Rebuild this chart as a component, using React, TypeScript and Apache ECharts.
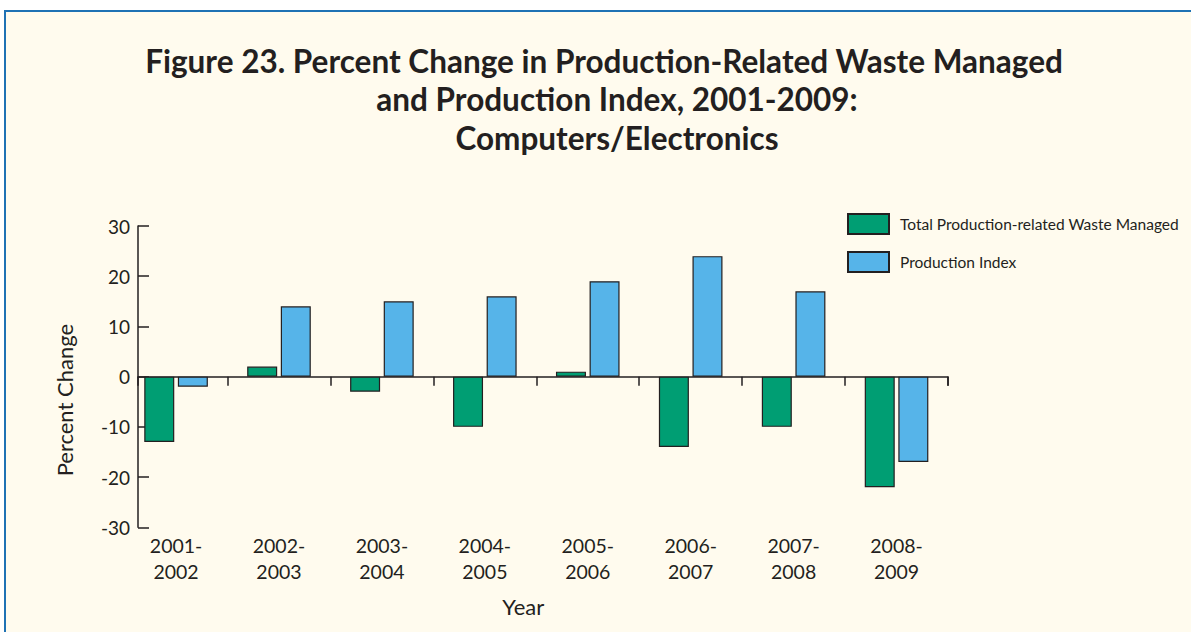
import { useEffect, useRef } from 'react';
import * as echarts from 'echarts';

const categories = ['2001-2002', '2002-2003', '2003-2004', '2004-2005', '2005-2006', '2006-2007', '2007-2008', '2008-2009'];
const wasteManaged = [-13, 2, -3, -10, 1, -14, -10, -22];
const productionIndex = [-2, 14, 15, 16, 19, 24, 17, -17];
const yMin = -30;
const yMax = 30;
const yInterval = 10;
const seriesNames = ['Total Production-related Waste Managed', 'Production Index'];
const titleLines = [
  'Figure 23. Percent Change in Production-Related Waste Managed',
  'and Production Index, 2001-2009:',
  'Computers/Electronics',
];

const FONT = 'Lato';
const INK = '#231f20';
const GREEN = '#009e73';
const BLUE = '#56b4e9';
const CREAM = '#fffbee';
const FRAME = '#1f72b4';

export default function App() {
  const ref = useRef<HTMLDivElement>(null);

  useEffect(() => {
    if (!ref.current) return;
    const chart = echarts.init(ref.current, undefined, { renderer: 'svg' });
    const lineStyle = { color: INK, width: 1.5 };
    const titleFont = { fontSize: 31.5, lineHeight: 38.2, fontWeight: 'bold' as const, color: INK, fontFamily: FONT };
    const titleText = `{first|${titleLines[0]}}\n{rest|${titleLines[1]}}\n{rest|${titleLines[2]}}`;
    const option = {
      animation: false,
      backgroundColor: 'transparent',
      textStyle: { fontFamily: FONT, color: INK },
      title: {
        text: titleText,
        left: 617,
        top: 42,
        padding: 0,
        textAlign: 'center',
        textStyle: {
          ...titleFont,
          rich: {
            first: { ...titleFont, padding: [0, 26, 0, 0] },
            rest: { ...titleFont },
          },
        },
      },
      legend: {
        orient: 'vertical',
        left: 847,
        top: 213,
        padding: 0,
        itemWidth: 41,
        itemHeight: 20,
        itemGap: 16,
        icon: 'rect',
        data: seriesNames,
        textStyle: { fontSize: 15.5, color: INK, fontFamily: FONT, padding: [0, 0, 0, 6] },
      },
      grid: [
        { left: 124.6, right: 243, top: 226, bottom: 104.7 },
        { left: 138, right: 243, top: 226, bottom: 104.7 },
      ],
      xAxis: [
        {
          type: 'category',
          gridIndex: 0,
          data: categories,
          position: 'bottom',
          axisLine: { show: false, onZero: true },
          axisTick: { show: true, interval: (i: number) => i > 0, length: 9, lineStyle },
          axisLabel: { show: false },
          splitLine: { show: false },
        },
        {
          type: 'category',
          gridIndex: 0,
          data: categories,
          position: 'bottom',
          axisLine: { show: false, onZero: false },
          axisTick: { show: false },
          axisLabel: {
            formatter: (v: string) => v.replace('-', '-\n'),
            fontSize: 19.5,
            lineHeight: 26,
            color: INK,
            fontFamily: FONT,
            margin: 5,
          },
          splitLine: { show: false },
          name: 'Year',
          nameLocation: 'middle',
          nameGap: 68,
          nameTextStyle: { fontSize: 22, color: INK, fontFamily: FONT, padding: [0, 26, 0, 0] },
        },
        {
          type: 'value',
          gridIndex: 1,
          min: 0,
          max: 1,
          interval: 1,
          axisLine: { show: true, onZero: true, lineStyle },
          axisTick: { show: true, length: 9, lineStyle },
          axisLabel: { show: false },
          splitLine: { show: false },
        },
      ],
      yAxis: [
        { type: 'value', gridIndex: 0, min: yMin, max: yMax, interval: yInterval, show: false },
        {
          type: 'value',
          gridIndex: 1,
          min: yMin,
          max: yMax,
          interval: yInterval,
          axisLine: { show: true, lineStyle },
          axisTick: { show: true, inside: true, length: 11, lineStyle },
          axisLabel: { fontSize: 19, color: INK, fontFamily: FONT, margin: 8 },
          splitLine: { show: false },
          name: 'Percent Change',
          nameLocation: 'middle',
          nameGap: 63,
          nameTextStyle: { fontSize: 22, color: INK, fontFamily: FONT, padding: [0, 47, 0, 0] },
        },
      ],
      series: [
        {
          name: seriesNames[0],
          type: 'bar',
          xAxisIndex: 0,
          yAxisIndex: 0,
          data: wasteManaged,
          barWidth: 30,
          barGap: '12%',
          itemStyle: { color: GREEN, borderColor: INK, borderWidth: 1.2 },
        },
        {
          name: seriesNames[1],
          type: 'bar',
          xAxisIndex: 0,
          yAxisIndex: 0,
          data: productionIndex,
          barWidth: 30,
          barGap: '12%',
          itemStyle: { color: BLUE, borderColor: INK, borderWidth: 1.2 },
        },
      ],
    };
    chart.setOption(option as any);
    return () => chart.dispose();
  }, []);

  return (
    <div style={{ position: 'fixed', left: 0, top: 0, width: 1191, height: 632, background: '#ffffff', overflow: 'hidden' }}>
      <div
        style={{
          position: 'absolute',
          left: 4,
          top: 10,
          width: 1300,
          height: 700,
          border: `2px solid ${FRAME}`,
          background: CREAM,
        }}
      />
      <div ref={ref} style={{ position: 'absolute', left: 0, top: 0, width: 1191, height: 632 }} />
    </div>
  );
}
